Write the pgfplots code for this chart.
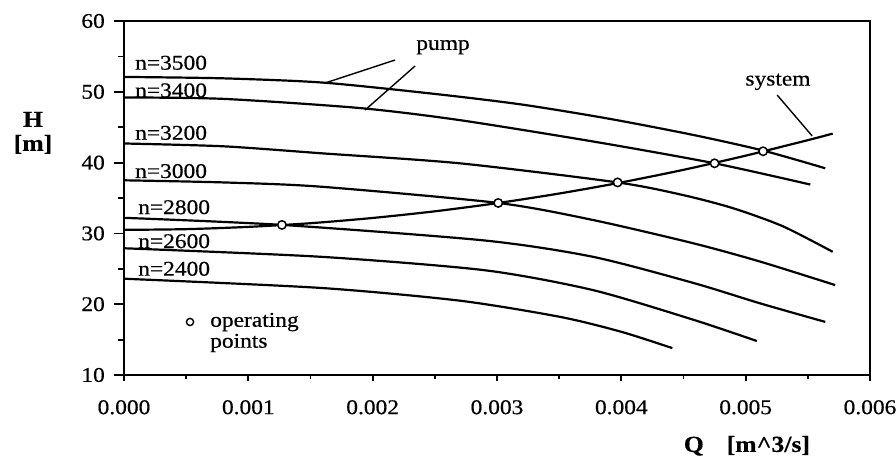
\documentclass[border=0pt]{standalone}
\usepackage{pgfplots}
\pgfplotsset{compat=1.18}
\usepackage{fontspec}
\setmainfont{Liberation Serif}[FakeStretch=1.12, FakeBold=0.5]
\begin{document}
\fontsize{21}{23}\selectfont
\begin{tikzpicture}[
  pump/.style={black, line width=2.2bp, smooth, tension=0.45, no marks},
  lead/.style={black, line width=1.4bp, no marks}
]
\begin{axis}[
  scale only axis, width=746bp, height=354bp,
  xmin=0, xmax=0.006, ymin=10, ymax=60,
  clip=false,
  xtick={0,0.001,0.002,0.003,0.004,0.005,0.006},
  xticklabels={0.000,0.001,0.002,0.003,0.004,0.005,0.006},
  ytick={10,20,30,40,50,60},
  yticklabels={10,20,30,40,50,60},
  minor x tick num=1, minor y tick num=1,
  tick pos=left, tick align=outside,
  axis line style={line width=2bp},
  every tick/.style={black, line width=1.8bp},
  major tick length=10bp, minor tick length=6bp,
  xtick style={/pgfplots/major tick length=6bp, /pgfplots/minor tick length=4bp},
  xticklabel style={yshift=-8bp},
  yticklabel style={xshift=-2bp},
  scaled x ticks=false,
]
% pump curves
\addplot[pump] coordinates {(0,52.1) (0.0008,51.9) (0.0016,51.3) (0.0025,49.7) (0.0032,48.2) (0.0039,46.2) (0.00458,43.9) (0.00514,41.7) (0.00564,39.2)};
\addplot[pump] coordinates {(0,49.2) (0.0008,49.0) (0.0019,47.7) (0.0027,46.0) (0.0038,42.9) (0.00475,39.9) (0.00552,36.9)};
\addplot[pump] coordinates {(0,42.7) (0.0008,42.3) (0.0016,41.3) (0.0027,39.9) (0.00397,37.2) (0.0045,35.4) (0.0049,33.55) (0.0053,31.0) (0.0057,27.4)};
\addplot[pump] coordinates {(0,37.5) (0.0008,37.2) (0.00158,36.6) (0.00301,34.3) (0.00377,31.9) (0.00458,28.6) (0.00512,26.0) (0.00572,22.7)};
\addplot[pump] coordinates {(0,32.2) (0.00127,31.2) (0.0029,29.0) (0.00377,26.7) (0.00458,23.0) (0.00512,20.1) (0.00564,17.5)};
\addplot[pump] coordinates {(0,27.9) (0.00158,26.7) (0.0029,24.8) (0.00377,22.0) (0.00458,17.8) (0.00509,14.8)};
\addplot[pump] coordinates {(0,23.6) (0.00158,22.3) (0.0027,20.5) (0.00351,18.2) (0.004,16.1) (0.00441,13.8)};
% system curve
\addplot[pump] coordinates {(0,30.5) (0.0005,30.6) (0.001,30.92) (0.0015,31.44) (0.002,32.18) (0.0025,33.12) (0.003,34.27) (0.0035,35.63) (0.004,37.2) (0.0045,38.98) (0.005,40.98) (0.0055,43.17) (0.0057,44.1)};
% leader lines
\addplot[lead] coordinates {(0.00218,54.49) (0.001617,51.24)};
\addplot[lead] coordinates {(0.002341,53.64) (0.001939,47.43)};
\addplot[lead] coordinates {(0.005253,49.55) (0.005535,43.76)};
% operating points
\addplot[only marks, mark=*, mark size=4.2bp, mark options={fill=white, draw=black, line width=1.5bp}]
  coordinates {(0.00127,31.2) (0.00301,34.3) (0.00397,37.2) (0.00475,39.9) (0.00514,41.6)};
% legend mark
\addplot[only marks, mark=*, mark size=3.6bp, mark options={fill=white, draw=black, line width=1.4bp}]
  coordinates {(0.000531,17.49)};
% labels
\node[anchor=west, inner sep=0pt] at (0.0000885,54.1) {n=3500};
\node[anchor=west, inner sep=0pt] at (0.0000885,50.2) {n=3400};
\node[anchor=west, inner sep=0pt] at (0.0000885,44.2) {n=3200};
\node[anchor=west, inner sep=0pt] at (0.0000885,38.8) {n=3000};
\node[anchor=west, inner sep=0pt] at (0.000113,33.7) {n=2800};
\node[anchor=west, inner sep=0pt] at (0.000113,28.9) {n=2600};
\node[anchor=west, inner sep=0pt] at (0.000113,25.0) {n=2400};
\node[inner sep=0pt] at (0.002566,56.3) {pump};
\node[inner sep=0pt] at (0.00526,51.4) {system};
\node[anchor=west, inner sep=0pt, align=left, font=\fontsize{21}{21}\selectfont] at (0.000692,16.0) {operating\\points};
\node[inner sep=0pt, align=center, font=\fontsize{23}{24}\selectfont\bfseries] at (axis description cs:-0.122,0.684) {H\\{[m]}};
\node[inner sep=0pt, font=\fontsize{23}{24}\selectfont\bfseries] at (axis description cs:0.835,-0.2) {Q\quad[m\^{}3/s]};
\end{axis}
\pgfresetboundingbox
\path[use as bounding box] (current axis.south west) ++(-124bp,-86bp) rectangle ++(896bp,461bp);
\end{tikzpicture}
\end{document}
